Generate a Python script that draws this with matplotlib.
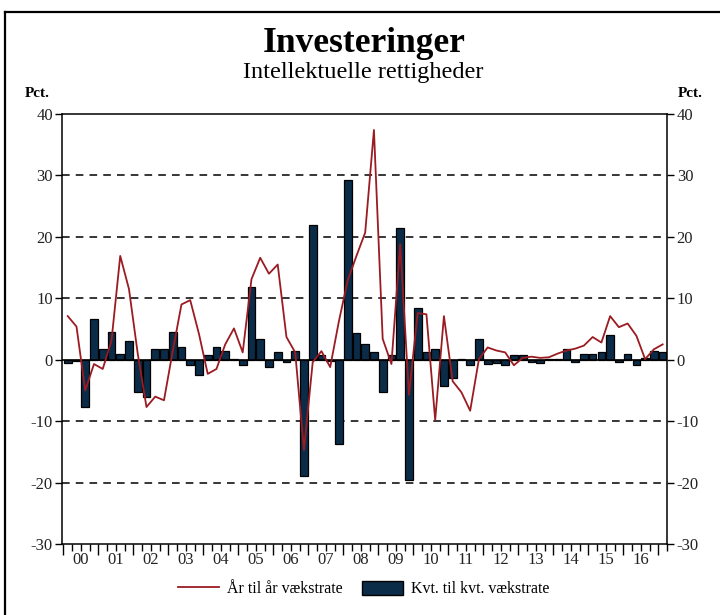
import matplotlib
matplotlib.use("Agg")
import matplotlib.pyplot as plt
from matplotlib.lines import Line2D
from matplotlib.patches import Patch
from matplotlib.ticker import FixedLocator, NullFormatter

# Kvartaler 2000K1 - 2017K1
aar_til_aar = [7.1, 5.4, -5.0, -0.7, -1.5, 3.1, 16.9, 11.5, 1.0, -7.7,
               -6.0, -6.6, 1.4, 9.0, 9.7, 4.2, -2.3, -1.5, 2.5, 5.1,
               1.2, 13.1, 16.6, 14.0, 15.5, 3.7, 1.2, -14.7, -0.4, 1.4,
               -1.2, 6.3, 12.9, 16.9, 20.7, 37.4, 3.4, -0.7, 18.8, -5.7,
               7.6, 7.4, -9.8, 7.1, -3.5, -5.3, -8.3, 0.1, 2.0, 1.5,
               1.2, -0.9, 0.3, 0.5, 0.3, 0.4, 1.0, 1.5, 1.8, 2.3,
               3.7, 2.8, 7.1, 5.3, 5.9, 3.9, 0.1, 1.7, 2.5]

kvt_til_kvt = [-0.6, -0.2, -7.7, 6.6, 1.7, 4.5, 1.0, 3.0, -5.3, -6.1,
               1.7, 1.7, 4.5, 2.0, -0.9, -2.5, 0.7, 2.0, 1.5, 0.1,
               -0.9, 11.8, 3.4, -1.2, 1.2, -0.4, 1.5, -18.9, 22.0, 0.7,
               -0.2, -13.7, 29.2, 4.4, 2.6, 1.2, -5.2, 0.8, 21.5, -19.5,
               8.5, 1.2, 1.7, -4.3, -2.9, 0.1, -0.8, 3.4, -0.7, -0.5,
               -0.8, 0.7, 0.7, -0.4, -0.6, 0.1, 0.2, 1.7, -0.4, 0.9,
               0.9, 1.2, 4.0, -0.4, 0.9, -0.9, 0.3, 1.5, 1.2]

year_labels = ['00', '01', '02', '03', '04', '05', '06', '07', '08',
               '09', '10', '11', '12', '13', '14', '15', '16']

y_ticks = [-30, -20, -10, 0, 10, 20, 30, 40]

LINE_COLOR = '#9b1b22'
BAR_COLOR = '#0b2c48'
TEXT_COLOR = '#222222'
SERIF = ['Liberation Serif', 'DejaVu Serif']


def main():
    plt.rcParams['font.family'] = SERIF
    plt.rcParams['axes.unicode_minus'] = False
    fig = plt.figure(figsize=(7.2, 6.15), dpi=100)
    ax = fig.add_axes([0.0868, 0.1154, 0.8396, 0.6992])

    n = len(kvt_til_kvt)
    x = list(range(n))

    # dashed grid lines
    for yv in [-20, -10, 10, 20, 30]:
        ax.axhline(yv, color='black', lw=1.1, ls=(0, (5, 4)), zorder=0)

    ax.bar(x, kvt_til_kvt, width=0.88, color=BAR_COLOR, edgecolor='black',
           linewidth=0.9, zorder=2)
    ax.axhline(0, color='black', lw=1.2, zorder=3)
    ax.plot(x, aar_til_aar, color=LINE_COLOR, lw=1.3, zorder=4)

    ax.set_xlim(-0.6, n - 0.5)
    ax.set_ylim(-30, 40)
    ax.set_yticks(y_ticks)
    ax.tick_params(axis='y', which='both', direction='out', length=5,
                   width=1, labelsize=12, right=True, labelright=True, pad=2,
                   labelcolor=TEXT_COLOR)

    # year boundaries as major ticks, quarters as minor
    n_years = len(year_labels)
    ax.xaxis.set_major_locator(FixedLocator([-0.5 + 4 * k for k in range(n_years + 1)]))
    ax.xaxis.set_major_formatter(NullFormatter())
    ax.xaxis.set_minor_locator(FixedLocator([k - 0.5 for k in range(n + 1)]))
    ax.tick_params(axis='x', which='major', direction='out', length=8, width=1)
    ax.tick_params(axis='x', which='minor', direction='out', length=5, width=1)
    for k, lab in enumerate(year_labels):
        ax.text(1.5 + 4 * k, -31.3, lab, ha='center', va='top', fontsize=12,
                color=TEXT_COLOR)

    for sp in ax.spines.values():
        sp.set_linewidth(1.1)

    # titles
    fig.text(0.506, 0.930, 'Investeringer', ha='center', va='center',
             fontsize=25.5, fontweight='bold')
    fig.text(0.504, 0.882, 'Intellektuelle rettigheder', ha='center',
             va='center', fontsize=17.5)
    fig.text(0.052, 0.848, 'Pct.', ha='center', va='center', fontsize=11,
             fontweight='bold')
    fig.text(0.959, 0.848, 'Pct.', ha='center', va='center', fontsize=11,
             fontweight='bold')

    handles = [Line2D([0], [0], color=LINE_COLOR, lw=1.3),
               Patch(facecolor=BAR_COLOR, edgecolor='black')]
    fig.legend(handles, ['År til år vækstrate', 'Kvt. til kvt. vækstrate'],
               loc='center', bbox_to_anchor=(0.505, 0.042), ncol=2,
               frameon=False, fontsize=11.5, handlelength=2.6,
               handleheight=1.0, columnspacing=1.2, handletextpad=0.5)

    # frame around the figure (top and left only)
    fig.add_artist(Line2D([0.007, 1.0], [0.980, 0.980], color='black', lw=1.6))
    fig.add_artist(Line2D([0.007, 0.007], [0.0, 0.980], color='black', lw=1.6))

    fig.savefig('out.png', dpi=100)


if __name__ == '__main__':
    main()
